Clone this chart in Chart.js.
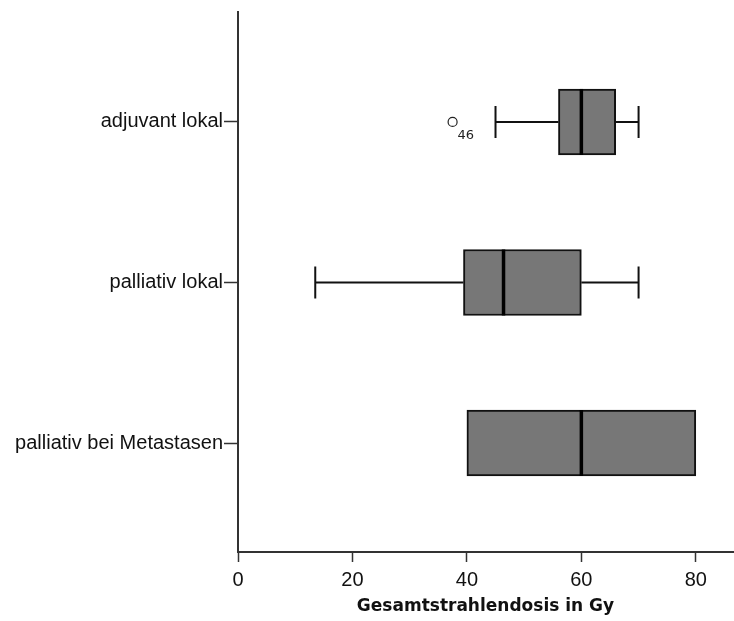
<!DOCTYPE html>
<html>
  <head>
    <meta charset="utf-8">
    <script src="https://cdn.jsdelivr.net/npm/chart.js@4.4.0/dist/chart.umd.min.js"></script>
    <style>
      body { margin: 0; background: #fff; }
      canvas { display: block; }
    </style>
  </head>
  <body>
    <canvas id="boxChart" width="734" height="621"></canvas>
    <script>
      // box plot values (Gy)
      const categories = ['adjuvant lokal', 'palliativ lokal', 'palliativ bei Metastasen'];
      const whiskerLow = [45, 13.5, 40];
      const q1 = [56, 39.4, 40];
      const median = [60, 46.4, 60];
      const q3 = [66, 60, 80];
      const whiskerHigh = [70, 70, 80];
      const outlierValues = [37.5];
      const outlierCats = [0];
      const outlierLabels = ['46'];
      const xTicks = [0, 20, 40, 60, 80];

      const boxData = categories.map((c, i) => ({ x: [q1[i], q3[i]], y: i }));
      const outlierData = outlierValues.map((v, i) => ({ x: v, y: outlierCats[i] }));

      // whiskers behind the boxes, medians + outlier ids on top
      const boxPlotLines = {
        id: 'boxPlotLines',
        beforeDatasetsDraw(chart) {
          const ctx = chart.ctx, xs = chart.scales.x, ys = chart.scales.y;
          ctx.save();
          ctx.strokeStyle = '#111';
          ctx.lineWidth = 2;
          categories.forEach((c, i) => {
            const y = ys.getPixelForValue(i);
            const lo = xs.getPixelForValue(whiskerLow[i]);
            const hi = xs.getPixelForValue(whiskerHigh[i]);
            ctx.beginPath();
            if (whiskerLow[i] < q1[i]) {
              ctx.moveTo(lo, y); ctx.lineTo(xs.getPixelForValue(q1[i]), y);
              ctx.moveTo(lo, y - 16); ctx.lineTo(lo, y + 16);
            }
            if (whiskerHigh[i] > q3[i]) {
              ctx.moveTo(xs.getPixelForValue(q3[i]), y); ctx.lineTo(hi, y);
              ctx.moveTo(hi, y - 16); ctx.lineTo(hi, y + 16);
            }
            ctx.stroke();
          });
          ctx.restore();
        },
        afterDatasetsDraw(chart) {
          const ctx = chart.ctx, xs = chart.scales.x, ys = chart.scales.y;
          ctx.save();
          ctx.strokeStyle = '#000';
          ctx.lineWidth = 3.5;
          categories.forEach((c, i) => {
            const y = ys.getPixelForValue(i);
            const m = xs.getPixelForValue(median[i]);
            ctx.beginPath();
            ctx.moveTo(m, y - 33); ctx.lineTo(m, y + 33);
            ctx.stroke();
          });
          ctx.fillStyle = '#222';
          ctx.font = '13px "DejaVu Sans"';
          ctx.textAlign = 'left';
          ctx.textBaseline = 'middle';
          outlierValues.forEach((v, i) => {
            ctx.fillText(outlierLabels[i], xs.getPixelForValue(v) + 5, ys.getPixelForValue(outlierCats[i]) + 14);
          });
          ctx.restore();
        }
      };

      const ctx = document.getElementById('boxChart').getContext('2d');
      const chart = new Chart(ctx, {
        type: 'bar',
        data: {
          datasets: [{
            label: 'Box',
            data: boxData,
            backgroundColor: '#777777',
            borderColor: '#111111',
            borderWidth: 2,
            borderSkipped: false,
            barThickness: 66
          }, {
            type: 'scatter',
            label: 'Ausreißer',
            data: outlierData,
            pointStyle: 'circle',
            pointRadius: 4.5,
            backgroundColor: '#ffffff',
            borderColor: '#222222',
            borderWidth: 1.2
          }]
        },
        options: {
          indexAxis: 'y',
          responsive: false,
          animation: false,
          layout: { autoPadding: false, padding: { top: 12, right: 1, left: 0, bottom: 0 } },
          plugins: {
            legend: { display: false },
            tooltip: { enabled: false }
          },
          scales: {
            x: {
              type: 'linear',
              min: 0,
              max: 86.5,
              afterBuildTicks: (scale) => { scale.ticks = xTicks.map(v => ({ value: v })); },
              afterFit: (scale) => {
                scale.height = 69;
                scale.paddingLeft = 0; scale.paddingRight = 0;
              },
              grid: { drawOnChartArea: false, drawTicks: true, tickLength: 10, tickWidth: 1.5, color: '#333' },
              border: { display: true, color: '#333', width: 2 },
              ticks: {
                padding: 6,
                color: '#111',
                font: { family: '"Liberation Sans", Arial, sans-serif', size: 20 }
              },
              title: {
                display: true,
                text: 'Gesamtstrahlendosis in Gy',
                color: '#111',
                padding: { top: 0, bottom: 4 },
                font: { family: '"DejaVu Sans", sans-serif', size: 17, weight: 'bold' }
              }
            },
            y: {
              type: 'linear',
              reverse: true,
              offset: false,
              min: -0.685,
              max: 2.679,
              afterBuildTicks: (scale) => { scale.ticks = categories.map((c, i) => ({ value: i })); },
              afterFit: (scale) => {
                scale.width = 238;
                scale.paddingTop = 0; scale.paddingBottom = 0;
              },
              grid: { offset: false, drawOnChartArea: false, drawTicks: true, tickLength: 14, tickWidth: 1.5, color: '#333' },
              border: { display: true, color: '#333', width: 2 },
              ticks: {
                padding: 1,
                color: '#111',
                font: { family: '"Liberation Sans", Arial, sans-serif', size: 20 },
                callback: (v) => categories[v]
              }
            }
          }
        },
        plugins: [boxPlotLines]
      });
    </script>
  </body>
</html>
